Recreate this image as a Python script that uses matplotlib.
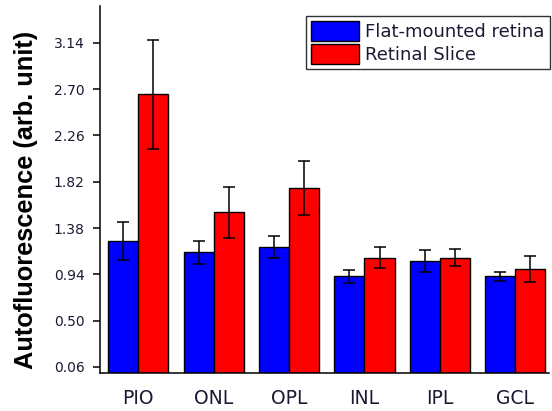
import matplotlib
matplotlib.use("Agg")
import matplotlib.pyplot as plt
import numpy as np

categories = ["PIO", "ONL", "OPL", "INL", "IPL", "GCL"]
flat_vals = [1.26, 1.15, 1.20, 0.92, 1.07, 0.92]
flat_err = [0.18, 0.11, 0.10, 0.065, 0.105, 0.046]
slice_vals = [2.65, 1.53, 1.76, 1.10, 1.10, 0.99]
slice_err = [0.52, 0.24, 0.26, 0.097, 0.085, 0.125]
yticks = [0.06, 0.50, 0.94, 1.38, 1.82, 2.26, 2.70, 3.14]
series_names = ["Flat-mounted retina", "Retinal Slice"]

plt.rcParams['font.family'] = ['DejaVu Sans']

fig = plt.figure(figsize=(5.52, 4.11), dpi=100)
ax = fig.add_axes([100/552, 1-373.3/411, 449/552, 367.3/411])

x = np.arange(len(categories))
w = 0.4
ekw = dict(elinewidth=1.1, capthick=1.1, ecolor='black')
ax.bar(x - w/2, flat_vals, w, yerr=flat_err, color='#0000FF', edgecolor='black',
       linewidth=1.0, capsize=4.5, error_kw=ekw, label=series_names[0])
ax.bar(x + w/2, slice_vals, w, yerr=slice_err, color='#FF0000', edgecolor='black',
       linewidth=1.0, capsize=4.5, error_kw=ekw, label=series_names[1])

ax.set_xlim(-0.508, 5.447)
ax.set_ylim(0, 3.49)
ax.set_yticks(yticks)
ax.set_yticklabels([f"{t:.2f}" for t in yticks], fontsize=10, color='#1a1a33')
ax.set_xticks(x)
ax.set_xticklabels(categories, fontsize=13.5, color='#1a1a33')
ax.tick_params(axis='x', length=0, pad=11)
ax.tick_params(axis='y', direction='out', length=5, width=1.1, pad=6)

for s in ['top', 'right']:
    ax.spines[s].set_visible(False)
for s in ['left', 'bottom']:
    ax.spines[s].set_linewidth(1.1)

ax.set_ylabel("Autofluorescence (arb. unit)", family='Liberation Sans',
              fontweight='bold', fontsize=18.3)
ax.yaxis.set_label_coords(-0.138, 0.472)

leg = ax.legend(loc='upper right', bbox_to_anchor=(1.002, 0.9736), fontsize=13,
                frameon=True, fancybox=False, borderaxespad=0, borderpad=0.3,
                handlelength=2.66, handleheight=1.33, handletextpad=0.33,
                labelspacing=0.14)
leg.get_frame().set_edgecolor('black')
leg.get_frame().set_linewidth(1.0)
for t in leg.get_texts():
    t.set_color('#1a1a33')

fig.savefig("out.png", dpi=100)
